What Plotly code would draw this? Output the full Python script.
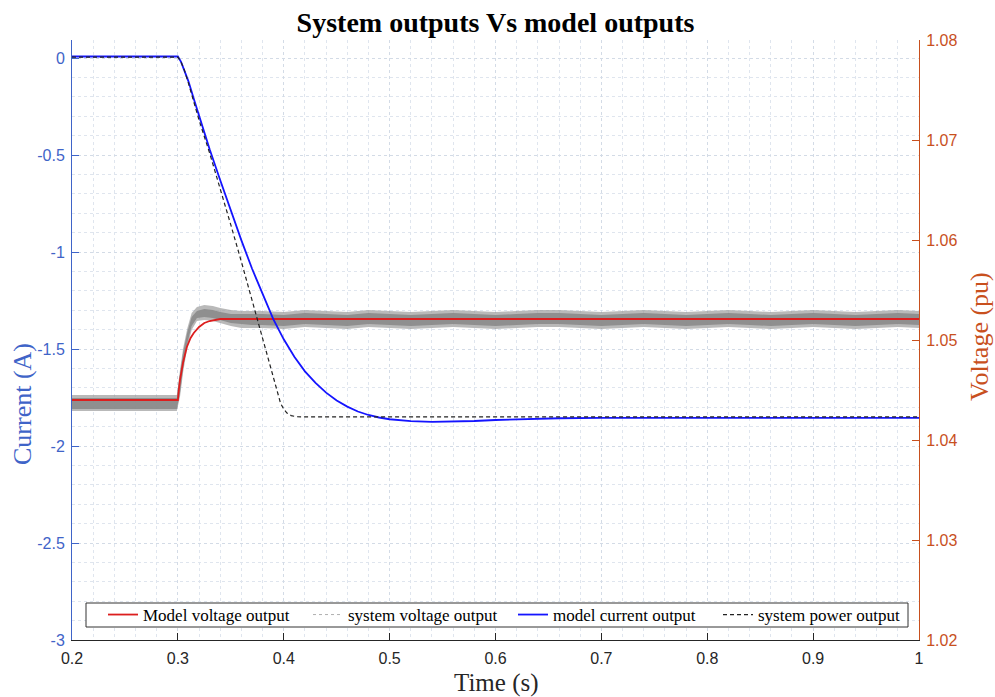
import plotly.graph_objects as go

# ---------------- data ----------------
t_model_v = [0.200, 0.300, 0.301, 0.302, 0.305, 0.3085, 0.312, 0.315, 0.320, 0.325, 0.330, 0.340, 1.000]
model_v   = [1.0440, 1.0440, 1.0451, 1.0460, 1.0478, 1.0493, 1.0502, 1.0507, 1.0513, 1.0517, 1.0519, 1.0521, 1.0521]

# system voltage output: noisy signal described by its envelopes
t_sys_v = [0.200, 0.250, 0.299, 0.302, 0.305, 0.309, 0.313, 0.318, 0.325, 0.333, 0.340, 0.350, 0.360, 0.370,
           0.38, 0.40, 0.42, 0.44, 0.46, 0.48, 0.50, 0.52, 0.54, 0.56, 0.58, 0.60, 0.62, 0.64, 0.66, 0.68,
           0.70, 0.72, 0.74, 0.76, 0.78, 0.80, 0.82, 0.84, 0.86, 0.88, 0.90, 0.92, 0.94, 0.96, 0.98, 1.00]
sys_v_in_low = [1.0431, 1.0431, 1.0431, 1.0447, 1.0472, 1.0497, 1.0514, 1.0522, 1.0523, 1.0522, 1.0520, 1.0517, 1.0516, 1.0515,
                1.0515, 1.0514, 1.0516, 1.0515, 1.0514, 1.0516, 1.0515, 1.0514, 1.0515, 1.0516, 1.0515, 1.0514, 1.0515, 1.0516, 1.0516, 1.0515,
                1.0514, 1.0515, 1.0516, 1.0515, 1.0514, 1.0515, 1.0516, 1.0515, 1.0514, 1.0515, 1.0516, 1.0515, 1.0514, 1.0515, 1.0516, 1.0515]
sys_v_in_high = [1.0442, 1.0442, 1.0442, 1.0466, 1.0488, 1.0508, 1.0523, 1.0529, 1.0531, 1.0530, 1.0528, 1.0526, 1.0526, 1.0526,
                 1.0526, 1.0525, 1.0527, 1.0526, 1.0525, 1.0527, 1.0526, 1.0525, 1.0526, 1.0527, 1.0526, 1.0525, 1.0526, 1.0527, 1.0527, 1.0526,
                 1.0525, 1.0526, 1.0527, 1.0526, 1.0525, 1.0526, 1.0527, 1.0526, 1.0525, 1.0526, 1.0527, 1.0526, 1.0525, 1.0526, 1.0527, 1.0526]
sys_v_out_low = [1.0429, 1.0429, 1.0429, 1.0443, 1.0468, 1.0493, 1.0510, 1.0519, 1.0520, 1.0519, 1.0517, 1.0514, 1.0512, 1.0512,
                 1.0512, 1.0511, 1.0513, 1.0512, 1.0511, 1.0513, 1.0512, 1.0511, 1.0512, 1.0513, 1.0512, 1.0511, 1.0512, 1.0513, 1.0513, 1.0512,
                 1.0511, 1.0512, 1.0513, 1.0512, 1.0511, 1.0512, 1.0513, 1.0512, 1.0511, 1.0512, 1.0513, 1.0512, 1.0511, 1.0512, 1.0513, 1.0512]
sys_v_out_high = [1.0445, 1.0445, 1.0445, 1.0470, 1.0492, 1.0512, 1.0527, 1.0533, 1.0535, 1.0534, 1.0532, 1.0530, 1.0529, 1.0529,
                  1.0529, 1.0528, 1.0530, 1.0529, 1.0528, 1.0530, 1.0529, 1.0528, 1.0529, 1.0530, 1.0529, 1.0528, 1.0529, 1.0530, 1.0530, 1.0529,
                  1.0528, 1.0529, 1.0530, 1.0529, 1.0528, 1.0529, 1.0530, 1.0529, 1.0528, 1.0529, 1.0530, 1.0529, 1.0528, 1.0529, 1.0530, 1.0529]

t_model_i = [0.200, 0.300, 0.303, 0.306, 0.310, 0.315, 0.320, 0.325, 0.330, 0.340, 0.350, 0.360, 0.370, 0.380,
             0.390, 0.400, 0.410, 0.420, 0.430, 0.440, 0.450, 0.460, 0.470, 0.480, 0.490, 0.500, 0.510,
             0.520, 0.540, 0.560, 0.580, 0.600, 0.630, 0.660, 0.700, 1.000]
model_i   = [0.008, 0.008, -0.02, -0.06, -0.12, -0.21, -0.30, -0.385, -0.47, -0.63, -0.79, -0.94, -1.085, -1.22,
             -1.345, -1.45, -1.54, -1.615, -1.675, -1.725, -1.765, -1.797, -1.822, -1.840, -1.853, -1.862, -1.868,
             -1.872, -1.876, -1.875, -1.871, -1.866, -1.860, -1.857, -1.855, -1.855]

t_sys_p = [0.200, 0.300, 0.303, 0.306, 0.310, 0.320, 0.330, 0.340, 0.350, 0.360, 0.370, 0.380, 0.385,
           0.390, 0.394, 0.397, 0.400, 0.403, 0.407, 0.412, 0.420, 1.000]
sys_p   = [0.005, 0.005, -0.02, -0.06, -0.13, -0.32, -0.49, -0.67, -0.86, -1.05, -1.25, -1.45, -1.55,
           -1.65, -1.73, -1.78, -1.81, -1.83, -1.843, -1.849, -1.85, -1.85]

x_ticks = [0.2, 0.3, 0.4, 0.5, 0.6, 0.7, 0.8, 0.9, 1.0]
x_tick_text = ["0.2", "0.3", "0.4", "0.5", "0.6", "0.7", "0.8", "0.9", "1"]
yl_ticks = [0, -0.5, -1, -1.5, -2, -2.5, -3]
yl_tick_text = ["0", "-0.5", "-1", "-1.5", "-2", "-2.5", "-3"]
yr_ticks = [1.02, 1.03, 1.04, 1.05, 1.06, 1.07, 1.08]
yr_tick_text = ["1.02", "1.03", "1.04", "1.05", "1.06", "1.07", "1.08"]

# ---------------- styles ----------------
BLUE_AX = "#3f64c8"
ORANGE = "#c8501e"
GRID = "#d3dbe6"
GRID_MINOR = "#dfe5ee"
SERIF = "Liberation Serif, Times New Roman, serif"
SANS = "Liberation Sans, Arial, sans-serif"

fig = go.Figure()

# noisy system voltage: outer (light) and inner (dense) envelopes, voltage axis = 'y'
fig.add_trace(go.Scatter(x=t_sys_v, y=sys_v_out_low, yaxis="y", mode="lines",
                         line=dict(color="rgba(150,150,150,0)", width=0),
                         showlegend=False, hoverinfo="skip"))
fig.add_trace(go.Scatter(x=t_sys_v, y=sys_v_out_high, yaxis="y", mode="lines",
                         line=dict(color="rgba(150,150,150,0)", width=0),
                         fill="tonexty", fillcolor="rgba(155,155,155,0.7)",
                         showlegend=False, hoverinfo="skip"))
fig.add_trace(go.Scatter(x=t_sys_v, y=sys_v_in_low, yaxis="y", mode="lines",
                         line=dict(color="rgba(130,130,130,0)", width=0),
                         showlegend=False, hoverinfo="skip"))
fig.add_trace(go.Scatter(x=t_sys_v, y=sys_v_in_high, yaxis="y", mode="lines",
                         line=dict(color="rgba(130,130,130,0)", width=0),
                         fill="tonexty", fillcolor="rgba(140,140,140,0.95)",
                         showlegend=False, hoverinfo="skip"))

# model voltage
fig.add_trace(go.Scatter(x=t_model_v, y=model_v, yaxis="y", mode="lines",
                         line=dict(color="#dc1e1e", width=1.8),
                         name="Model voltage output", legendrank=1))
# legend entry for system voltage
fig.add_trace(go.Scatter(x=[None], y=[None], yaxis="y", mode="lines",
                         line=dict(color="#b0b0b0", width=1, dash="dot"),
                         name="system voltage output", legendrank=2))
# model current (current axis = 'y2', drawn on top)
fig.add_trace(go.Scatter(x=t_model_i, y=model_i, yaxis="y2", mode="lines",
                         line=dict(color="#1414ff", width=1.8),
                         name="model current output", legendrank=3))
# system power
fig.add_trace(go.Scatter(x=t_sys_p, y=sys_p, yaxis="y2", mode="lines",
                         line=dict(color="#222222", width=1.2, dash="4px,3px"),
                         name="system power output", legendrank=4))

PL, PR, PT, PB = 72, 76, 40, 57
PW = 995 - PL - PR
PH = 697 - PT - PB

def px_x(p):
    return (p - PL) / PW

def px_y(p):
    return (697 - PB - p) / PH

fig.update_layout(
    width=995, height=697,
    margin=dict(l=PL, r=PR, t=PT, b=PB),
    paper_bgcolor="white", plot_bgcolor="white",
    title=dict(text="<b>System outputs Vs model outputs</b>", x=0.498, xanchor="center",
               y=0.968, yanchor="middle",
               font=dict(family=SERIF, size=28, color="black")),
    xaxis=dict(range=[0.2, 1.0], tickvals=x_ticks, ticktext=x_tick_text,
               showline=True, linecolor="#262626", linewidth=1,
               ticks="inside", ticklen=7, tickcolor="#262626",
               ticklabelstandoff=4,
               tickfont=dict(family=SANS, size=16, color="#262626"),
               showgrid=True, gridcolor=GRID, griddash="dot", gridwidth=1,
               minor=dict(dtick=0.02, showgrid=True, gridcolor=GRID_MINOR, griddash="dot", ticks=""),
               zeroline=False),
    yaxis=dict(range=[1.02, 1.08], tickvals=yr_ticks, ticktext=yr_tick_text,
               side="right",
               showline=True, linecolor=ORANGE, linewidth=1,
               ticks="inside", ticklen=7, tickcolor=ORANGE,
               ticklabelstandoff=3,
               tickfont=dict(family=SANS, size=16, color=ORANGE),
               showgrid=False, zeroline=False),
    yaxis2=dict(range=[-3, 0.093], tickvals=yl_ticks, ticktext=yl_tick_text,
                overlaying="y", side="left",
                showline=True, linecolor=BLUE_AX, linewidth=1,
                ticks="inside", ticklen=7, tickcolor=BLUE_AX,
                ticklabelstandoff=3,
                tickfont=dict(family=SANS, size=16, color=BLUE_AX),
                showgrid=True, gridcolor=GRID, griddash="dot",
                minor=dict(dtick=0.1, showgrid=True, gridcolor=GRID_MINOR, griddash="dot", ticks=""),
                zeroline=False),
    legend=dict(orientation="h", x=px_x(103), xanchor="left", y=px_y(615), yanchor="middle",
                bgcolor="rgba(0,0,0,0)", borderwidth=0,
                font=dict(family=SERIF, size=17, color="black"),
                traceorder="normal", itemwidth=30,
                entrywidth=160, entrywidthmode="pixels"),
    shapes=[dict(type="rect", xref="paper", yref="paper",
                 x0=px_x(86), x1=px_x(908), y0=px_y(627), y1=px_y(603),
                 fillcolor="white", line=dict(color="#333333", width=1), layer="above")],
    annotations=[
        dict(text="Current (A)", xref="paper", yref="paper", x=px_x(22), y=px_y(404),
             textangle=-90, showarrow=False, xanchor="center", yanchor="middle",
             font=dict(family=SERIF, size=26, color=BLUE_AX)),
        dict(text="Voltage (pu)", xref="paper", yref="paper", x=px_x(979), y=px_y(336),
             textangle=-90, showarrow=False, xanchor="center", yanchor="middle",
             font=dict(family=SERIF, size=26, color=ORANGE)),
        dict(text="Time (s)", xref="paper", yref="paper", x=px_x(496), y=px_y(683),
             showarrow=False, xanchor="center", yanchor="middle",
             font=dict(family=SERIF, size=25, color="#262626")),
    ],
)

fig.write_html("out.html")
